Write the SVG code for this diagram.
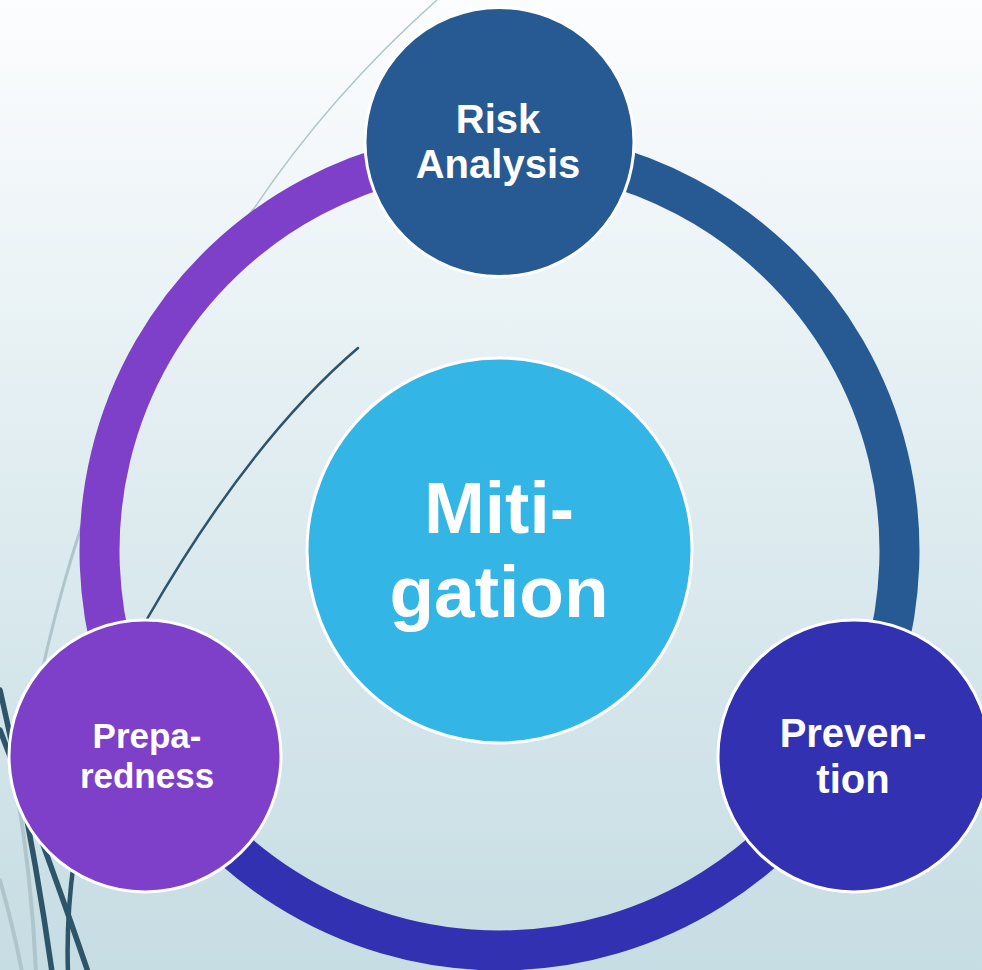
<svg xmlns="http://www.w3.org/2000/svg" width="982" height="970" viewBox="0 0 982 970">
  <defs>
    <linearGradient id="bg" x1="0" y1="0" x2="0" y2="1">
      <stop offset="0" stop-color="#FCFDFE"/>
      <stop offset="0.5" stop-color="#DFECF0"/>
      <stop offset="1" stop-color="#C6DDE3"/>
    </linearGradient>
  </defs>
  <style>
    .arc { fill: none; stroke-width: 40; }
    .node { stroke: #FFFFFF; stroke-width: 3; }
    .lbl { font-family: "Liberation Sans", Arial, sans-serif; font-weight: 700; fill: #FFFFFF; text-anchor: middle; }
    .deco-dark { fill: none; stroke: #2E5469; stroke-linecap: round; }
    .deco-light { fill: none; stroke: #AFC5CC; stroke-linecap: round; }
  </style>

  <rect x="0" y="0" width="982" height="970" fill="url(#bg)"/>

  <g id="decoration">
    <path class="deco-light" d="M437,0 Q330,95 253,210" stroke="#C9D2D6" stroke-width="1.5"/>
    <path class="deco-light" d="M253,210 Q120,370 82,525" stroke-width="2.5"/>
    <path class="deco-light" d="M82,525 Q60,590 40,680" stroke-width="3"/>
    <path class="deco-dark" d="M358,348 Q250,440 147,619" stroke-width="2.5"/>
    <path class="deco-dark" d="M0,690 Q32,830 52,972" stroke-width="5.5"/>
    <path class="deco-dark" d="M0,730 Q50,860 88,972" stroke-width="5.5"/>
    <path class="deco-dark" d="M74,860 Q66,920 68,972" stroke-width="4.5"/>
    <path class="deco-light" d="M0,880 Q14,930 22,972" stroke-width="4"/>
    <path class="deco-light" d="M16,785 Q32,880 36,972" stroke-width="4"/>
  </g>

  <g id="connectors">
    <path class="arc" stroke="#275A93" d="M499.5,150.5 A400,400 0 0 1 845.9,750.5"/>
    <path class="arc" stroke="#3131B1" d="M845.9,750.5 A400,400 0 0 1 153.1,750.5"/>
    <path class="arc" stroke="#7E3FC9" d="M153.1,750.5 A400,400 0 0 1 499.5,150.5"/>
  </g>

  <g id="node-mitigation">
    <circle class="node" cx="499.5" cy="550.5" r="192.5" fill="#33B5E5"/>
    <text class="lbl" x="499" y="533" font-size="73">Miti-</text>
    <text class="lbl" x="499" y="617" font-size="73">gation</text>
  </g>

  <g id="node-risk-analysis">
    <circle class="node" cx="499.5" cy="142" r="134.5" fill="#275A93"/>
    <text class="lbl" x="498" y="133" font-size="40">Risk</text>
    <text class="lbl" x="498" y="178" font-size="40">Analysis</text>
  </g>

  <g id="node-prevention">
    <circle class="node" cx="854" cy="756" r="136" fill="#3131B1"/>
    <text class="lbl" x="853" y="747" font-size="40">Preven-</text>
    <text class="lbl" x="853" y="793" font-size="40">tion</text>
  </g>

  <g id="node-preparedness">
    <circle class="node" cx="145" cy="756" r="136" fill="#7E3FC9"/>
    <text class="lbl" x="147" y="748" font-size="35">Prepa-</text>
    <text class="lbl" x="147" y="788" font-size="35">redness</text>
  </g>
</svg>
